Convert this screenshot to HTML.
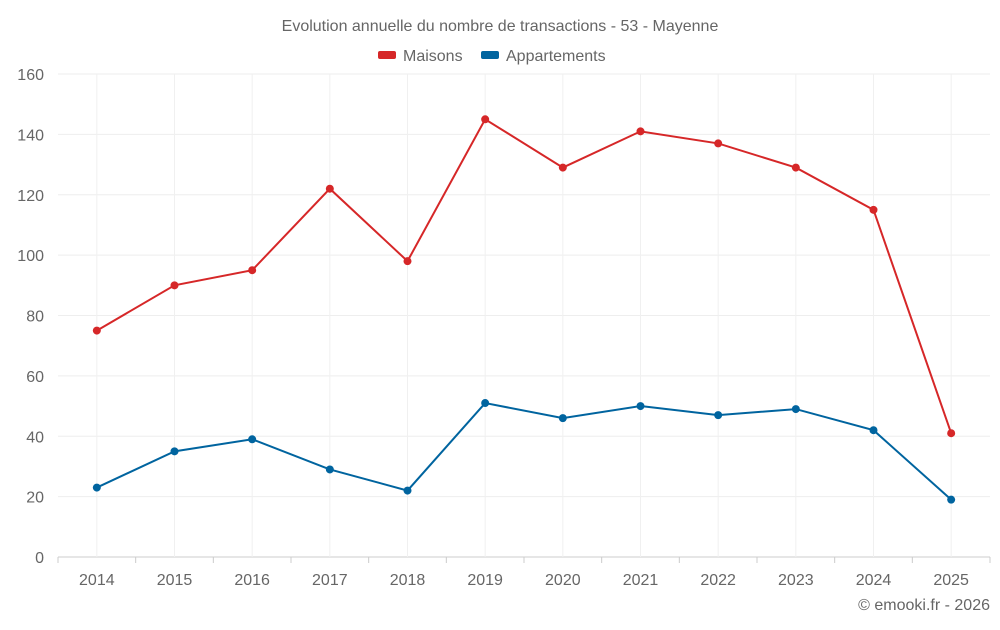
<!DOCTYPE html>
<html><head><meta charset="utf-8"><style>
body{margin:0;background:#fff;width:1000px;height:625px;overflow:hidden;font-family:"Liberation Sans",sans-serif}
svg text{font-family:"Liberation Sans",sans-serif;fill:#666}
</style></head><body>
<svg id="c" width="1000" height="625">
<text x="500" y="31" text-anchor="middle" font-size="16">Evolution annuelle du nombre de transactions - 53 - Mayenne</text>
<g>
<g><rect x="378" y="51" width="18" height="8" rx="2" fill="#d62728"/><text x="403" y="61" font-size="16">Maisons</text></g>
<g><rect x="481" y="51" width="18" height="8" rx="2" fill="#00649f"/><text x="506" y="61" font-size="16">Appartements</text></g>
</g>
<g id="grid"></g>
<g id="axes"></g>
<g id="series"></g>
<text x="990" y="610" text-anchor="end" font-size="16">© emooki.fr - 2026</text>
</svg>
<script>
const years=['2014','2015','2016','2017','2018','2019','2020','2021','2022','2023','2024','2025'];
const maisons=[75,90,95,122,98,145,129,141,137,129,115,41];
const appartements=[23,35,39,29,22,51,46,50,47,49,42,19];
const yTicks=[0,20,40,60,80,100,120,140,160];
const NS='http://www.w3.org/2000/svg';
const L=58,R=990,T=74,B=557,yMax=160;
const bw=(R-L)/years.length;
const xs=i=>L+bw*(i+0.5);
const ys=v=>B-(v/yMax)*(B-T);
function mk(tag,attrs,parent){const e=document.createElementNS(NS,tag);for(const k in attrs)e.setAttribute(k,attrs[k]);parent.appendChild(e);return e;}
const grid=document.getElementById('grid'),axes=document.getElementById('axes'),ser=document.getElementById('series');
yTicks.forEach(t=>{
 const l=mk('line',{x1:L,x2:R,y1:ys(t),y2:ys(t),stroke:t===0?'#ccc':'#eee','stroke-width':1},grid);
 
 
 const tx=mk('text',{x:L-14,y:ys(t)+6,'text-anchor':'end','font-size':16},axes);
 tx.textContent=t;
 
 
});
years.forEach((y,i)=>{
 const l=mk('line',{x1:xs(i),x2:xs(i),y1:T,y2:B,stroke:'#f0f0f0','stroke-width':1},grid);
 
 
 const tk=mk('line',{x1:L+bw*i,x2:L+bw*i,y1:B,y2:B+6,stroke:'#ccc'},axes);
 
 
 const tx=mk('text',{x:xs(i),y:B+28,'text-anchor':'middle','font-size':16},axes);
 tx.textContent=y;
 
 
});
const tkEnd=mk('line',{x1:R,x2:R,y1:B,y2:B+6,stroke:'#ccc'},axes);


function draw(vals,color,name){
 const p=mk('polyline',{points:vals.map((v,i)=>xs(i)+','+ys(v)).join(' '),fill:'none',stroke:color,'stroke-width':2},ser);
 
 
 vals.forEach((v,i)=>{
  const c=mk('circle',{cx:xs(i),cy:ys(v),r:4,fill:color},ser);
  
  
 });
}
draw(maisons,'#d62728','maisons');
draw(appartements,'#00649f','appartements');
</script>
</body></html>
